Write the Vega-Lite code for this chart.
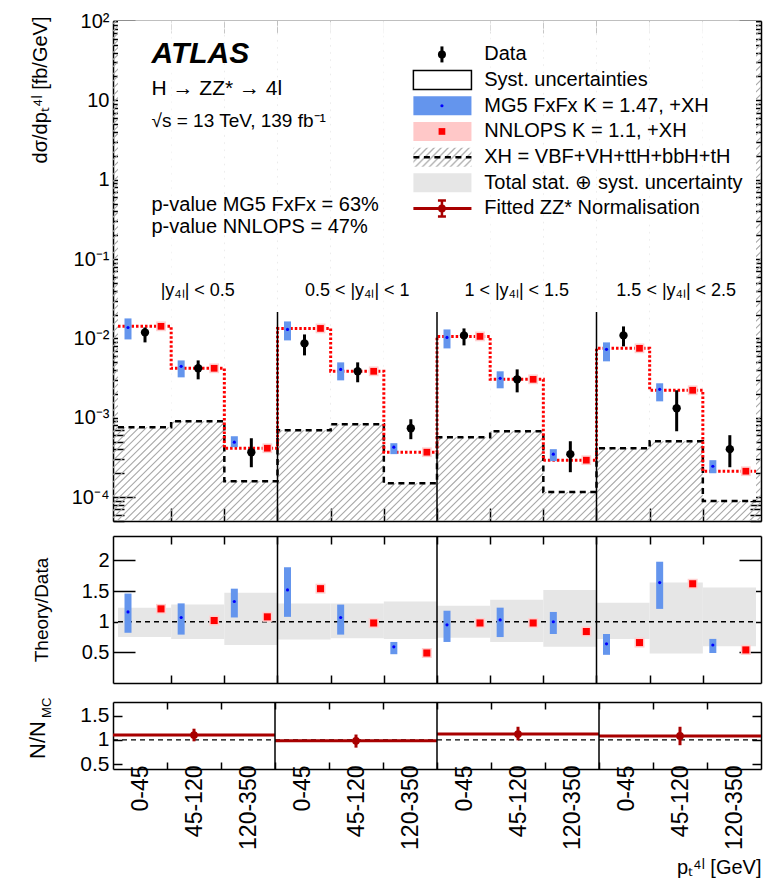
{
"$schema": "https://vega.github.io/schema/vega-lite/v6.json",
"background": "white",
"padding": {"left": 26, "top": 11, "right": 0, "bottom": 0},
"spacing": 13,
"config": {
  "view": {"stroke": null},
  "font": "Liberation Sans",
  "axis": {"zindex": 1, "grid": false, "domainColor": "black", "domainWidth": 1.5, "tickColor": "black", "tickWidth": 1.5, "labelColor": "black", "titleColor": "black", "titleFontWeight": "normal", "labelOverlap": false, "labelFlush": false, "labelBound": false, "minExtent": 0}
},
"resolve": {"scale": {"x": "independent", "y": "independent"}},
"datasets": {
  "bins": [
    {"i":0,"hi":1,"pt":"0-45","data":0.0119,"dlo":0.00891,"dhi":0.01374,"mg5":0.01374,"mg5lo":0.00971,"mg5hi":0.01786,"nn":0.0142,"xh":0.00076,"rmg5":1.16,"rmg5lo":0.82,"rmg5hi":1.46,"rnn":1.21,"tlo":0.75,"thi":1.23},
    {"i":1,"hi":2,"pt":"45-120","data":0.0042,"dlo":0.00305,"dhi":0.00528,"mg5":0.00445,"mg5lo":0.00323,"mg5hi":0.00528,"nn":0.0042,"xh":0.000904,"rmg5":1.07,"rmg5lo":0.79,"rmg5hi":1.30,"rnn":1.02,"tlo":0.72,"thi":1.28},
    {"i":2,"hi":3,"pt":"120-350","data":0.000368,"dlo":0.000238,"dhi":0.000552,"mg5":0.000492,"mg5lo":0.000426,"mg5hi":0.000585,"nn":0.000413,"xh":0.000159,"rmg5":1.33,"rmg5lo":1.07,"rmg5hi":1.54,"rnn":1.08,"tlo":0.62,"thi":1.475},
    {"i":3,"hi":4,"pt":"0-45","data":0.00865,"dlo":0.00611,"dhi":0.01122,"mg5":0.01297,"mg5lo":0.00944,"mg5hi":0.01637,"nn":0.01336,"xh":0.000697,"rmg5":1.52,"rmg5lo":1.08,"rmg5hi":1.89,"rnn":1.54,"tlo":0.71,"thi":1.30},
    {"i":4,"hi":5,"pt":"45-120","data":0.00385,"dlo":0.0028,"dhi":0.00499,"mg5":0.00407,"mg5lo":0.00296,"mg5hi":0.00499,"nn":0.00385,"xh":0.000828,"rmg5":1.07,"rmg5lo":0.79,"rmg5hi":1.28,"rnn":0.98,"tlo":0.73,"thi":1.30},
    {"i":5,"hi":6,"pt":"120-350","data":0.000738,"dlo":0.000537,"dhi":0.000958,"mg5":0.000426,"mg5lo":0.000348,"mg5hi":0.000478,"nn":0.000368,"xh":0.00015,"rmg5":0.59,"rmg5lo":0.47,"rmg5hi":0.67,"rnn":0.49,"tlo":0.72,"thi":1.33},
    {"i":6,"hi":7,"pt":"0-45","data":0.01091,"dlo":0.00817,"dhi":0.01336,"mg5":0.0103,"mg5lo":0.00748,"mg5hi":0.01297,"nn":0.0106,"xh":0.000569,"rmg5":0.95,"rmg5lo":0.67,"rmg5hi":1.18,"rnn":0.98,"tlo":0.74,"thi":1.26},
    {"i":7,"hi":8,"pt":"45-120","data":0.00305,"dlo":0.00209,"dhi":0.00407,"mg5":0.00314,"mg5lo":0.00235,"mg5hi":0.00385,"nn":0.00305,"xh":0.000676,"rmg5":1.03,"rmg5lo":0.75,"rmg5hi":1.23,"rnn":0.98,"tlo":0.67,"thi":1.36},
    {"i":8,"hi":9,"pt":"120-350","data":0.000348,"dlo":0.000206,"dhi":0.000506,"mg5":0.000348,"mg5lo":0.000284,"mg5hi":0.000402,"nn":0.000292,"xh":0.000116,"rmg5":1.0,"rmg5lo":0.80,"rmg5hi":1.16,"rnn":0.84,"tlo":0.59,"thi":1.52},
    {"i":9,"hi":10,"pt":"0-45","data":0.01091,"dlo":0.00794,"dhi":0.01416,"mg5":0.00728,"mg5lo":0.00514,"mg5hi":0.00891,"nn":0.0075,"xh":0.000413,"rmg5":0.64,"rmg5lo":0.46,"rmg5hi":0.80,"rnn":0.66,"tlo":0.72,"thi":1.31},
    {"i":10,"hi":11,"pt":"45-120","data":0.00132,"dlo":0.000676,"dhi":0.00222,"mg5":0.00228,"mg5lo":0.00161,"mg5hi":0.00272,"nn":0.00222,"xh":0.000506,"rmg5":1.64,"rmg5lo":1.21,"rmg5hi":1.98,"rnn":1.62,"tlo":0.48,"thi":1.64},
    {"i":11,"hi":12,"pt":"120-350","data":0.000402,"dlo":0.000238,"dhi":0.000603,"mg5":0.000245,"mg5lo":0.0002,"mg5hi":0.000292,"nn":0.000212,"xh":0.0000891,"rmg5":0.62,"rmg5lo":0.49,"rmg5hi":0.72,"rnn":0.54,"tlo":0.60,"thi":1.56},
    {"i":12,"nn":0.000212,"xh":0.0000891}
  ],
  "regions": [
    {"region":"|y₄ₗ| < 0.5","start":0,"end":3,"mid":1.5,"norm":1.10,"nlo":0.97,"nhi":1.23},
    {"region":"0.5 < |y₄ₗ| < 1","start":3,"end":6,"mid":4.5,"norm":0.98,"nlo":0.84,"nhi":1.11},
    {"region":"1 < |y₄ₗ| < 1.5","start":6,"end":9,"mid":7.5,"norm":1.12,"nlo":0.99,"nhi":1.27},
    {"region":"1.5 < |y₄ₗ| < 2.5","start":9,"end":12,"mid":10.5,"norm":1.08,"nlo":0.89,"nhi":1.27}
  ],
  "legend": [
    {"item":0,"label":"Data"},
    {"item":1,"label":"Syst. uncertainties"},
    {"item":2,"label":"MG5 FxFx K = 1.47, +XH"},
    {"item":3,"label":"NNLOPS K = 1.1, +XH"},
    {"item":4,"label":"XH = VBF+VH+ttH+bbH+tH"},
    {"item":5,"label":"Total stat. ⊕ syst. uncertainty"},
    {"item":6,"label":"Fitted ZZ* Normalisation"}
  ]
},
"vconcat": [
 {
  "width": 648, "height": 500,
  "resolve": {"scale": {"y": "independent"}, "axis": {"x": "independent", "y": "independent"}},
  "layer": [
   {
    "data": {"name": "bins"},
    "resolve": {"axis": {"x": "independent", "y": "independent"}},
    "layer": [
     {"data": {"values": [{}]},
      "mark": {"type": "rule", "clip": true, "stroke": "#a8a8a8", "strokeWidth": 900, "strokeDash": [1.1, 4]},
      "encoding": {
        "x": {"datum": -1, "type": "quantitative", "scale": {"domain": [0, 12], "nice": false, "zero": false},
              "axis": {"orient": "bottom", "values": [1,2,3,4,5,6,7,8,9,10,11], "labels": false, "tickSize": -13, "domain": true, "title": null}},
        "x2": {"datum": 13},
        "y": {"datum": 1000, "type": "quantitative", "scale": {"type": "log", "domain": [0.00005, 100], "nice": false},
              "axis": {"orient": "left", "values": [0.0001,0.001,0.01,0.1,1,10,100], "ticks": false, "domain": true, "labelFontSize": 20, "labelPadding": 4,
                       "labelExpr": "datum.value == 100 ? '10²' : datum.value == 10 ? '10' : datum.value == 1 ? '1' : datum.value == 0.1 ? '10⁻¹' : datum.value == 0.01 ? '10⁻²' : datum.value == 0.001 ? '10⁻³' : datum.value == 0.0001 ? '10⁻⁴' : ''",
                       "title": "dσ/dpₜ⁴ˡ [fb/GeV]", "titleFontSize": 20, "titleAngle": -90, "titleBaseline": "bottom", "titleAlign": "right", "titleX": -63, "titleY": -5}},
        "y2": {"datum": 3e-7}
      }},
     {"transform": [{"filter": "datum.hi != null"}],
      "mark": {"type": "rect", "clip": true, "fill": "white"},
      "encoding": {
        "x": {"field": "i", "type": "quantitative",
              "axis": {"orient": "top", "values": [1,2,3,4,5,6,7,8,9,10,11], "labels": false, "tickSize": -12, "domain": true, "title": null}},
        "x2": {"field": "hi"},
        "y": {"field": "xh", "type": "quantitative",
              "axis": {"orient": "right", "labels": false, "domain": true, "title": null,
                       "values": [0.00005,0.00006,0.00007,0.00008,0.00009,0.0001,0.0002,0.0003,0.0004,0.0005,0.0006,0.0007,0.0008,0.0009,0.001,0.002,0.003,0.004,0.005,0.006,0.007,0.008,0.009,0.01,0.02,0.03,0.04,0.05,0.06,0.07,0.08,0.09,0.1,0.2,0.3,0.4,0.5,0.6,0.7,0.8,0.9,1,2,3,4,5,6,7,8,9,10,20,30,40,50,60,70,80,90,100],
                       "tickSize": {"condition": {"test": "datum.value == 100 || datum.value == 10 || datum.value == 1 || datum.value == 0.1 || datum.value == 0.01 || datum.value == 0.001 || datum.value == 0.0001", "value": -22}, "value": -11}}},
        "y2": {"datum": 1000}
      }},
     {"mark": {"type": "line", "interpolate": "step-after", "stroke": "black", "strokeWidth": 2.5, "strokeDash": [6, 4.5], "clip": true},
      "encoding": {
        "x": {"field": "i", "type": "quantitative", "axis": null},
        "y": {"field": "xh", "type": "quantitative",
              "axis": {"orient": "left", "labels": false, "domain": false, "title": null,
                       "values": [0.00005,0.00006,0.00007,0.00008,0.00009,0.0001,0.0002,0.0003,0.0004,0.0005,0.0006,0.0007,0.0008,0.0009,0.001,0.002,0.003,0.004,0.005,0.006,0.007,0.008,0.009,0.01,0.02,0.03,0.04,0.05,0.06,0.07,0.08,0.09,0.1,0.2,0.3,0.4,0.5,0.6,0.7,0.8,0.9,1,2,3,4,5,6,7,8,9,10,20,30,40,50,60,70,80,90,100],
                       "tickSize": {"condition": {"test": "datum.value == 100 || datum.value == 10 || datum.value == 1 || datum.value == 0.1 || datum.value == 0.01 || datum.value == 0.001 || datum.value == 0.0001", "value": -22}, "value": -11}}}
      }},
     {"mark": {"type": "line", "interpolate": "step-after", "stroke": "#ff0000", "strokeWidth": 3, "strokeDash": [2.5, 2], "clip": true},
      "encoding": {
        "x": {"field": "i", "type": "quantitative", "axis": null},
        "y": {"field": "nn", "type": "quantitative", "axis": null}
      }},
     {"data": {"name": "regions"}, "transform": [{"filter": "datum.start > 0"}],
      "mark": {"type": "rule", "stroke": "black", "strokeWidth": 1.5, "clip": true},
      "encoding": {
        "x": {"field": "start", "type": "quantitative", "axis": null},
        "y": {"datum": 0.00001, "type": "quantitative", "axis": null},
        "y2": {"datum": 0.0215}
      }},
     {"mark": {"type": "bar", "width": 7, "xOffset": 10, "fill": "#6495ed"},
      "encoding": {
        "x": {"field": "i", "type": "quantitative", "axis": null},
        "y": {"field": "mg5lo", "type": "quantitative", "axis": null},
        "y2": {"field": "mg5hi"}
      }},
     {"mark": {"type": "circle", "size": 10, "color": "#0000ff", "opacity": 1, "xOffset": 10},
      "encoding": {
        "x": {"field": "i", "type": "quantitative", "axis": null},
        "y": {"field": "mg5", "type": "quantitative", "axis": null}
      }},
     {"mark": {"type": "square", "size": 95, "color": "#ffd0d0", "opacity": 1, "xOffset": 43},
      "encoding": {
        "x": {"field": "i", "type": "quantitative", "axis": null},
        "y": {"field": "nn", "type": "quantitative", "axis": null}
      }},
     {"mark": {"type": "square", "size": 45, "color": "#ff0000", "opacity": 1, "xOffset": 43},
      "encoding": {
        "x": {"field": "i", "type": "quantitative", "axis": null},
        "y": {"field": "nn", "type": "quantitative", "axis": null}
      }},
     {"mark": {"type": "rule", "strokeWidth": 3, "color": "black", "xOffset": 27},
      "encoding": {
        "x": {"field": "i", "type": "quantitative", "axis": null},
        "y": {"field": "dlo", "type": "quantitative", "axis": null},
        "y2": {"field": "dhi"}
      }},
     {"mark": {"type": "circle", "size": 70, "color": "black", "opacity": 1, "xOffset": 27},
      "encoding": {
        "x": {"field": "i", "type": "quantitative", "axis": null},
        "y": {"field": "data", "type": "quantitative", "axis": null}
      }},
     {"data": {"name": "regions"},
      "mark": {"type": "text", "fontSize": 18, "align": "center", "baseline": "alphabetic"},
      "encoding": {
        "x": {"field": "mid", "type": "quantitative", "axis": null},
        "y": {"datum": 0.0347, "type": "quantitative", "axis": null},
        "text": {"field": "region"}
      }},
     {"data": {"values": [{}]},
      "mark": {"type": "text", "text": "ATLAS", "fontSize": 30, "fontWeight": "bold", "fontStyle": "italic", "align": "left", "baseline": "alphabetic"},
      "encoding": {"x": {"datum": 0.63, "type": "quantitative", "axis": null}, "y": {"datum": 29.6, "type": "quantitative", "axis": null}}},
     {"data": {"values": [{}]},
      "mark": {"type": "text", "text": "H → ZZ* → 4l", "fontSize": 21, "align": "left", "baseline": "alphabetic"},
      "encoding": {"x": {"datum": 0.63, "type": "quantitative", "axis": null}, "y": {"datum": 11.7, "type": "quantitative", "axis": null}}},
     {"data": {"values": [{}]},
      "mark": {"type": "text", "text": "√s = 13 TeV, 139 fb⁻¹", "fontSize": 19, "align": "left", "baseline": "alphabetic"},
      "encoding": {"x": {"datum": 0.63, "type": "quantitative", "axis": null}, "y": {"datum": 4.6, "type": "quantitative", "axis": null}}},
     {"data": {"values": [{}]},
      "mark": {"type": "text", "text": "p-value MG5 FxFx = 63%", "fontSize": 20, "align": "left", "baseline": "alphabetic"},
      "encoding": {"x": {"datum": 0.63, "type": "quantitative", "axis": null}, "y": {"datum": 0.407, "type": "quantitative", "axis": null}}},
     {"data": {"values": [{}]},
      "mark": {"type": "text", "text": "p-value NNLOPS = 47%", "fontSize": 20, "align": "left", "baseline": "alphabetic"},
      "encoding": {"x": {"datum": 0.63, "type": "quantitative", "axis": null}, "y": {"datum": 0.215, "type": "quantitative", "axis": null}}}
    ]
   },
   {
    "data": {"name": "legend"},
    "encoding": {"y": {"field": "item", "type": "quantitative", "scale": {"domain": [-1.107, 17.977], "reverse": true, "nice": false, "zero": false}, "axis": null}},
    "layer": [
     {"transform": [{"filter": "datum.item == 0"}],
      "mark": {"type": "point", "shape": "M0,-1L0,1", "size": 256, "filled": false, "stroke": "black", "strokeWidth": 3, "opacity": 1},
      "encoding": {"x": {"datum": 6.093, "type": "quantitative", "axis": null}}},
     {"transform": [{"filter": "datum.item == 0"}],
      "mark": {"type": "circle", "size": 64, "color": "black", "opacity": 1},
      "encoding": {"x": {"datum": 6.093, "type": "quantitative", "axis": null}}},
     {"transform": [{"filter": "datum.item == 1"}],
      "mark": {"type": "bar", "height": 19, "fill": "white", "stroke": "black", "strokeWidth": 1.5},
      "encoding": {"x": {"datum": 5.556, "type": "quantitative", "axis": null}, "x2": {"datum": 6.648}}},
     {"transform": [{"filter": "datum.item == 2"}],
      "mark": {"type": "bar", "height": 19, "fill": "#6495ed"},
      "encoding": {"x": {"datum": 5.556, "type": "quantitative", "axis": null}, "x2": {"datum": 6.648}}},
     {"transform": [{"filter": "datum.item == 2"}],
      "mark": {"type": "circle", "size": 10, "color": "#0000ff", "opacity": 1},
      "encoding": {"x": {"datum": 6.093, "type": "quantitative", "axis": null}}},
     {"transform": [{"filter": "datum.item == 3"}],
      "mark": {"type": "bar", "height": 19, "fill": "#ffc8c8"},
      "encoding": {"x": {"datum": 5.556, "type": "quantitative", "axis": null}, "x2": {"datum": 6.648}}},
     {"transform": [{"filter": "datum.item == 3"}],
      "mark": {"type": "square", "size": 45, "color": "#ff0000", "opacity": 1},
      "encoding": {"x": {"datum": 6.093, "type": "quantitative", "axis": null}}},
     {"transform": [{"filter": "datum.item == 4"}],
      "mark": {"type": "bar", "height": 19, "fill": {"gradient": "linear", "x1": 0, "y1": 0, "x2": 1.2, "y2": 0.386, "stops": [
        {"offset": 0, "color": "#b0b0b0"}, {"offset": 0.025, "color": "#ffffff"}, {"offset": 0.066, "color": "#ffffff"},
        {"offset": 0.0909, "color": "#b0b0b0"}, {"offset": 0.116, "color": "#ffffff"}, {"offset": 0.157, "color": "#ffffff"},
        {"offset": 0.1818, "color": "#b0b0b0"}, {"offset": 0.207, "color": "#ffffff"}, {"offset": 0.248, "color": "#ffffff"},
        {"offset": 0.2727, "color": "#b0b0b0"}, {"offset": 0.298, "color": "#ffffff"}, {"offset": 0.339, "color": "#ffffff"},
        {"offset": 0.3636, "color": "#b0b0b0"}, {"offset": 0.389, "color": "#ffffff"}, {"offset": 0.430, "color": "#ffffff"},
        {"offset": 0.4545, "color": "#b0b0b0"}, {"offset": 0.480, "color": "#ffffff"}, {"offset": 0.521, "color": "#ffffff"},
        {"offset": 0.5455, "color": "#b0b0b0"}, {"offset": 0.571, "color": "#ffffff"}, {"offset": 0.612, "color": "#ffffff"},
        {"offset": 0.6364, "color": "#b0b0b0"}, {"offset": 0.661, "color": "#ffffff"}, {"offset": 0.702, "color": "#ffffff"},
        {"offset": 0.7273, "color": "#b0b0b0"}, {"offset": 0.752, "color": "#ffffff"}, {"offset": 0.793, "color": "#ffffff"},
        {"offset": 0.8182, "color": "#b0b0b0"}, {"offset": 0.843, "color": "#ffffff"}, {"offset": 0.884, "color": "#ffffff"},
        {"offset": 0.9091, "color": "#b0b0b0"}, {"offset": 0.934, "color": "#ffffff"}, {"offset": 0.975, "color": "#ffffff"},
        {"offset": 1, "color": "#b0b0b0"}]}},
      "encoding": {"x": {"datum": 5.556, "type": "quantitative", "axis": null}, "x2": {"datum": 6.648}}},
     {"transform": [{"filter": "datum.item == 4"}],
      "mark": {"type": "rule", "stroke": "black", "strokeWidth": 2.5, "strokeDash": [6, 4.5]},
      "encoding": {"x": {"datum": 5.556, "type": "quantitative", "axis": null}, "x2": {"datum": 6.648}}},
     {"transform": [{"filter": "datum.item == 5"}],
      "mark": {"type": "bar", "height": 19, "fill": "#e6e6e6"},
      "encoding": {"x": {"datum": 5.556, "type": "quantitative", "axis": null}, "x2": {"datum": 6.648}}},
     {"transform": [{"filter": "datum.item == 6"}],
      "mark": {"type": "rule", "stroke": "#a80000", "strokeWidth": 3},
      "encoding": {"x": {"datum": 5.556, "type": "quantitative", "axis": null}, "x2": {"datum": 6.648}}},
     {"transform": [{"filter": "datum.item == 6"}],
      "mark": {"type": "point", "shape": "M-0.5,-1L0.5,-1M0,-1L0,1M-0.5,1L0.5,1", "size": 256, "filled": false, "stroke": "#a80000", "strokeWidth": 2.5, "opacity": 1},
      "encoding": {"x": {"datum": 6.093, "type": "quantitative", "axis": null}}},
     {"transform": [{"filter": "datum.item == 6"}],
      "mark": {"type": "circle", "size": 60, "color": "#a80000", "opacity": 1},
      "encoding": {"x": {"datum": 6.093, "type": "quantitative", "axis": null}}},
     {"mark": {"type": "text", "align": "left", "baseline": "middle", "fontSize": 20, "dy": 0},
      "encoding": {"x": {"datum": 6.889, "type": "quantitative", "axis": null}, "text": {"field": "label"}}}
    ]
   }
  ]
 },
 {
  "width": 648, "height": 147,
  "data": {"name": "bins"},
  "resolve": {"axis": {"x": "independent", "y": "independent"}},
  "layer": [
   {"transform": [{"filter": "datum.hi != null"}],
    "mark": {"type": "rect", "fill": "#e6e6e6"},
    "encoding": {
      "x": {"field": "i", "type": "quantitative", "scale": {"domain": [0, 12], "nice": false, "zero": false},
            "axis": {"orient": "bottom", "values": [1,2,3,4,5,6,7,8,9,10,11], "labels": false, "tickSize": -8, "domain": true, "title": null}},
      "x2": {"field": "hi"},
      "y": {"field": "tlo", "type": "quantitative", "scale": {"domain": [0, 2.4], "nice": false, "zero": false},
            "axis": {"orient": "left", "values": [0.5, 1, 1.5, 2], "ticks": false, "domain": true, "format": "~g", "labelFontSize": 20, "labelPadding": 4,
                     "title": "Theory/Data", "titleFontSize": 19, "titleAngle": -90, "titleBaseline": "bottom", "titleX": -62}},
      "y2": {"field": "thi"}
    }},
   {"data": {"values": [{}]},
    "mark": {"type": "rule", "stroke": "black", "strokeWidth": 1.3, "strokeDash": [5, 4]},
    "encoding": {
      "x": {"datum": 0, "type": "quantitative", "axis": {"orient": "top", "values": [1,2,3,4,5,6,7,8,9,10,11], "labels": false, "tickSize": -8, "domain": true, "title": null}},
      "x2": {"datum": 12},
      "y": {"datum": 1, "type": "quantitative", "axis": {"orient": "right", "values": [0.5, 1, 1.5, 2], "labels": false, "tickSize": -22, "domain": true, "title": null}}
    }},
   {"data": {"name": "regions"}, "transform": [{"filter": "datum.start > 0"}],
    "mark": {"type": "rule", "stroke": "black", "strokeWidth": 1.5},
    "encoding": {
      "x": {"field": "start", "type": "quantitative", "axis": null},
      "y": {"datum": 0, "type": "quantitative", "axis": {"orient": "left", "values": [0.5, 1, 1.5, 2], "labels": false, "tickSize": -22, "domain": false, "title": null}},
      "y2": {"datum": 2.4}
    }},
   {"mark": {"type": "bar", "width": 7, "xOffset": 10, "fill": "#6495ed"},
    "encoding": {
      "x": {"field": "i", "type": "quantitative", "axis": null},
      "y": {"field": "rmg5lo", "type": "quantitative", "axis": null},
      "y2": {"field": "rmg5hi"}
    }},
   {"mark": {"type": "circle", "size": 10, "color": "#0000ff", "opacity": 1, "xOffset": 10},
    "encoding": {
      "x": {"field": "i", "type": "quantitative", "axis": null},
      "y": {"field": "rmg5", "type": "quantitative", "axis": null}
    }},
   {"mark": {"type": "square", "size": 100, "color": "#ffd0d0", "opacity": 1, "xOffset": 43},
    "encoding": {
      "x": {"field": "i", "type": "quantitative", "axis": null},
      "y": {"field": "rnn", "type": "quantitative", "axis": null}
    }},
   {"mark": {"type": "square", "size": 50, "color": "#ff0000", "opacity": 1, "xOffset": 43},
    "encoding": {
      "x": {"field": "i", "type": "quantitative", "axis": null},
      "y": {"field": "rnn", "type": "quantitative", "axis": null}
    }}
  ]
 },
 {
  "width": 648, "height": 67,
  "data": {"name": "regions"},
  "resolve": {"axis": {"x": "independent", "y": "independent"}},
  "layer": [
   {"data": {"values": [{}]},
    "mark": {"type": "rule", "stroke": "black", "strokeWidth": 1.3, "strokeDash": [5, 4]},
    "encoding": {
      "x": {"datum": 0, "type": "quantitative", "scale": {"domain": [0, 12], "nice": false, "zero": false},
            "axis": {"orient": "bottom", "values": [1,2,3,4,5,6,7,8,9,10,11], "labels": false, "tickSize": -7, "domain": true, "title": null}},
      "x2": {"datum": 12},
      "y": {"datum": 1, "type": "quantitative", "scale": {"domain": [0.4, 1.78], "nice": false, "zero": false},
            "axis": {"orient": "left", "values": [0.5, 1, 1.5], "ticks": false, "domain": true, "format": "~g", "labelFontSize": 21, "labelPadding": 4,
                     "title": "N/N", "titleFontSize": 22, "titleAngle": -90, "titleBaseline": "bottom", "titleX": -64, "titleY": 37.5}}
    }},
   {"mark": {"type": "rule", "stroke": "#a80000", "strokeWidth": 3},
    "encoding": {
      "x": {"field": "start", "type": "quantitative", "axis": {"orient": "top", "values": [1,2,3,4,5,6,7,8,9,10,11], "labels": false, "tickSize": -7, "domain": true, "title": null}},
      "x2": {"field": "end"},
      "y": {"field": "norm", "type": "quantitative", "axis": {"orient": "right", "values": [0.5, 1, 1.5], "labels": false, "tickSize": -9, "domain": true, "title": null}}
    }},
   {"transform": [{"filter": "datum.start > 0"}],
    "mark": {"type": "rule", "stroke": "black", "strokeWidth": 1.5},
    "encoding": {
      "x": {"field": "start", "type": "quantitative",
            "axis": {"orient": "bottom", "values": [0.5,1.5,2.5,3.5,4.5,5.5,6.5,7.5,8.5,9.5,10.5,11.5], "ticks": false, "domain": false,
                     "labelAngle": -90, "labelFontSize": 23, "labelPadding": -4,
                     "labelExpr": "['0-45','45-120','120-350'][floor(datum.value) % 3]",
                     "title": "pₜ⁴ˡ [GeV]", "titleFontSize": 20, "titleAnchor": "end", "titleAlign": "right", "titlePadding": 8}},
      "y": {"datum": 0.4, "type": "quantitative", "axis": {"orient": "left", "values": [0.5, 1, 1.5], "labels": false, "tickSize": -9, "domain": false, "title": null}},
      "y2": {"datum": 1.78}
    }},
   {"mark": {"type": "rule", "stroke": "#a80000", "strokeWidth": 3},
    "encoding": {
      "x": {"field": "mid", "type": "quantitative", "axis": null},
      "y": {"field": "nlo", "type": "quantitative", "axis": null},
      "y2": {"field": "nhi"}
    }},
   {"mark": {"type": "circle", "size": 60, "color": "#a80000", "opacity": 1},
    "encoding": {
      "x": {"field": "mid", "type": "quantitative", "axis": null},
      "y": {"field": "norm", "type": "quantitative", "axis": null}
    }},
   {"data": {"values": [{}]},
    "mark": {"type": "text", "text": "MC", "fontSize": 13, "angle": 270, "align": "center", "baseline": "middle", "xOffset": -66},
    "encoding": {
      "x": {"datum": 0, "type": "quantitative", "axis": null},
      "y": {"datum": 1.66, "type": "quantitative", "axis": null}
    }}
  ]
 }
]
}
